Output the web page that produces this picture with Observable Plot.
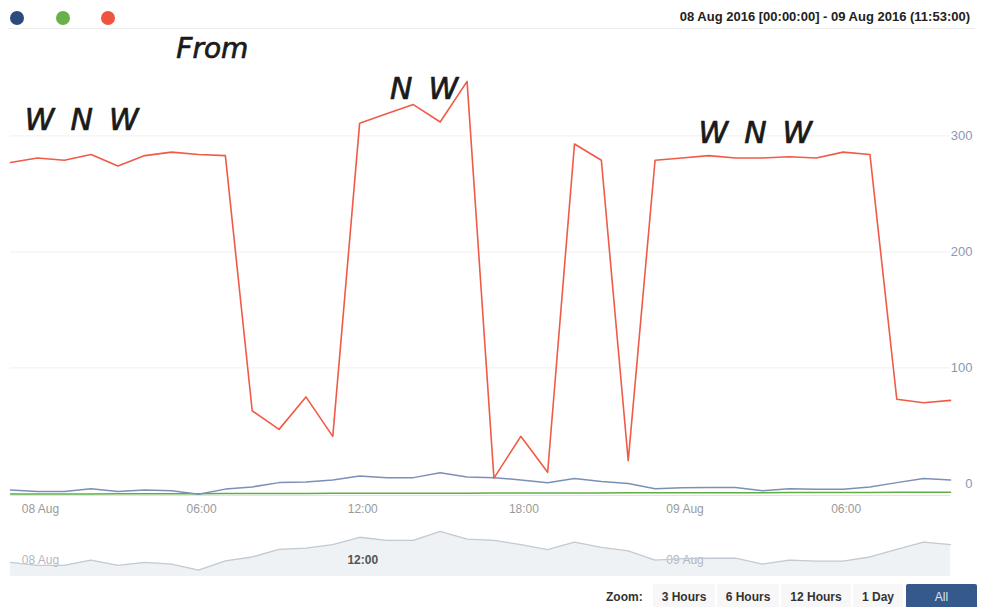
<!DOCTYPE html>
<html><head><meta charset="utf-8">
<script src="https://cdn.jsdelivr.net/npm/d3@7"></script>
<script src="https://cdn.jsdelivr.net/npm/@observablehq/plot@0.6"></script>
<style>
body{margin:0;background:#fff;font-family:"Liberation Sans",Arial,sans-serif;}
#wrap{position:relative;width:981px;height:607px;overflow:hidden;background:#fff;}
#main{position:absolute;left:0;top:0;}
#nav{position:absolute;left:0;top:518px;}
.dot{position:absolute;width:14px;height:14px;border-radius:7px;top:11px;}
#title{position:absolute;right:11px;top:9px;font-size:13px;font-weight:bold;color:#222;white-space:nowrap;}
#sep{position:absolute;left:8px;right:6px;top:28px;height:1px;background:#ececec;}
#zoom{position:absolute;top:584px;left:606px;font-size:12px;font-weight:bold;color:#333;}
.btn{position:absolute;top:584px;height:26px;background:#f7f7f7;font-size:12px;font-weight:bold;color:#333;text-align:center;line-height:26px;}
.annoWide text{letter-spacing:16px;}
</style></head><body><div id="wrap"></div>
<script>
// ---- data ----
const times = [
 "2016-08-07T22:53","2016-08-07T23:53","2016-08-08T00:53","2016-08-08T01:53","2016-08-08T02:53","2016-08-08T03:53",
 "2016-08-08T04:53","2016-08-08T05:53","2016-08-08T06:53","2016-08-08T07:53","2016-08-08T08:53","2016-08-08T09:53",
 "2016-08-08T10:53","2016-08-08T11:53","2016-08-08T12:53","2016-08-08T13:53","2016-08-08T14:53","2016-08-08T15:53",
 "2016-08-08T16:53","2016-08-08T17:53","2016-08-08T18:53","2016-08-08T19:53","2016-08-08T20:53","2016-08-08T21:53",
 "2016-08-08T22:53","2016-08-08T23:53","2016-08-09T00:53","2016-08-09T01:53","2016-08-09T02:53","2016-08-09T03:53",
 "2016-08-09T04:53","2016-08-09T05:53","2016-08-09T06:53","2016-08-09T07:53","2016-08-09T08:53","2016-08-09T09:53"];
const windDirection = [277,281,279,284,274,283,286,284,283,63,47,75,41,311,319,327,312,347,
                       5,41,10,293,279,20,279,281,283,281,281,282,281,286,284,73,70,72];
const windSpeed = [-5.2,-6.6,-6.6,-4.1,-6.6,-5.2,-6,-8.9,-4.5,-2.6,1.1,1.7,3.4,6.9,5.4,5.4,9.7,6,
                   5.4,3.4,0.9,4.6,2,0.3,-4.1,-3.4,-3.2,-3.2,-6,-4.1,-4.6,-4.6,-2.6,1.1,4.6,3.4];
const gust = [-8.8,-8.8,-8.6,-8.6,-8.5,-8.5,-8.4,-8.4,-8.3,-8.3,-8.2,-8.2,-8.1,-8.1,-8,-8,-8,-8,
              -7.9,-7.9,-7.8,-7.8,-7.8,-7.7,-7.7,-7.7,-7.6,-7.6,-7.6,-7.5,-7.5,-7.5,-7.4,-7.3,-7.2,-7.2];
const seriesColors = ["#2b4a7e","#68b04a","#ef5440"];
const xTicks = ["2016-08-08T00:00","2016-08-08T06:00","2016-08-08T12:00","2016-08-08T18:00","2016-08-09T00:00","2016-08-09T06:00"];
const xTickLabels = ["08 Aug","06:00","12:00","18:00","09 Aug","06:00"];
const yTicks = [0,100,200,300];
const navTicks = ["2016-08-08T00:00","2016-08-08T12:00","2016-08-09T00:00"];
const navTickLabels = ["08 Aug","12:00","09 Aug"];
const annoLabels = ["From","WNW","NW","WNW"];
const annoTimes = ["2016-08-08T06:24","2016-08-08T01:50","2016-08-08T14:35","2016-08-09T02:55"];
const annoValues = [375,313,340,302];
const titleText = "08 Aug 2016 [00:00:00] - 09 Aug 2016 (11:53:00)";
const zoomButtons = ["3 Hours","6 Hours","12 Hours","1 Day","All"];

// ---- build ----
const T = times.map(s => new Date(s));
const rows = vals => T.map((t,i) => ({t, v: vals[i]}));
const xDomain = [T[0], T[T.length-1]];
const tickMap = new Map(xTicks.map((s,i)=>[+new Date(s), xTickLabels[i]]));
const annos = annoLabels.map((l,i)=>({label:l, t:new Date(annoTimes[i]), v:annoValues[i]}));
const annoStyle = {x:"t", y:"v", text:"label", fontSize:30, fontStyle:"italic", fontFamily:"DejaVu Sans",
  fill:"#1a1a1a", stroke:"#1a1a1a", strokeWidth:0.7};

const main = Plot.plot({
  width:981, height:520, marginLeft:10, marginRight:31, marginTop:31, marginBottom:25,
  style:{fontFamily:"Liberation Sans, Arial, sans-serif", background:"transparent", overflow:"visible"},
  x:{type:"time", domain:xDomain, label:null},
  y:{domain:[-10,390], label:null},
  marks:[
    Plot.gridY(yTicks.slice(1), {stroke:"#f0f0f0", strokeOpacity:1}),
    Plot.ruleY([-10], {stroke:"#e4e4e4"}),
    Plot.axisX(xTicks.map(s=>new Date(s)), {label:null, tickSize:0, tickPadding:9, tickFormat:d=>tickMap.get(+d), fill:"#9a9a9a", fontSize:12}),
    Plot.axisY(yTicks, {label:null, anchor:"right", tickSize:0, tickPadding:3, textAnchor:"end", dx:19, fill:"#8a97b6", fontSize:13}),
    Plot.line(rows(gust), {x:"t", y:"v", stroke:"#5fae45", strokeWidth:1.5}),
    Plot.line(rows(windSpeed), {x:"t", y:"v", stroke:"#7d8fb6", strokeWidth:1.5}),
    Plot.line(rows(windDirection), {x:"t", y:"v", stroke:"#f05b47", strokeWidth:1.6}),
    Plot.text(annos.filter(d=>d.label==="From"), {...annoStyle, fontSize:28, className:"annoNarrow"}),
    Plot.text(annos.filter(d=>d.label!=="From"), {...annoStyle, className:"annoWide"})
  ]
});
main.id = "main";

const navRows = rows(windSpeed);
const navLab = navTicks.map((s,i)=>({t:new Date(s), label:navTickLabels[i]}));
const nav = Plot.plot({
  width:981, height:60, marginLeft:10, marginRight:31, marginTop:9, marginBottom:2,
  style:{fontFamily:"Liberation Sans, Arial, sans-serif", background:"transparent", overflow:"visible"},
  x:{type:"time", domain:xDomain, axis:null},
  y:{domain:[-12,11.6], axis:null},
  marks:[
    Plot.areaY(navRows, {x:"t", y1:-12, y2:"v", fill:"#eef2f5"}),
    Plot.text(navLab.filter(d=>d.label!=="12:00"), {x:"t", text:"label", frameAnchor:"bottom", dy:-13, fontSize:12, fill:"#b4b8c0"}),
    Plot.text(navLab.filter(d=>d.label==="12:00"), {x:"t", text:"label", frameAnchor:"bottom", dy:-13, fontSize:12, fill:"#555", fontWeight:"bold"}),
    Plot.line(navRows, {x:"t", y:"v", stroke:"#c3cad2", strokeWidth:1.3})
  ]
});
nav.id = "nav";

const wrap = document.getElementById("wrap");
wrap.appendChild(main);
wrap.appendChild(nav);

// header
const sep = document.createElement("div"); sep.id="sep"; wrap.appendChild(sep);
[10,56,101].forEach((left,i)=>{
  const d=document.createElement("div"); d.className="dot"; d.style.left=left+"px"; d.style.background=seriesColors[i]; wrap.appendChild(d);
});
const title=document.createElement("div"); title.id="title"; title.textContent=titleText; wrap.appendChild(title);

// zoom buttons
const z=document.createElement("div"); z.id="zoom"; z.textContent="Zoom:"; z.style.lineHeight="26px"; wrap.appendChild(z);
const btnPos=[[653,62],[717,62],[781,70],[853,50],[906,71]];
zoomButtons.forEach((b,i)=>{
  const e=document.createElement("div"); e.className="btn"; e.textContent=b;
  e.style.left=btnPos[i][0]+"px"; e.style.width=btnPos[i][1]+"px";
  if(i===4){e.style.background="#34598a"; e.style.color="#dfe6ef"; e.style.fontWeight="normal"; e.style.borderRadius="2px";}
  wrap.appendChild(e);
});
</script></body></html>
